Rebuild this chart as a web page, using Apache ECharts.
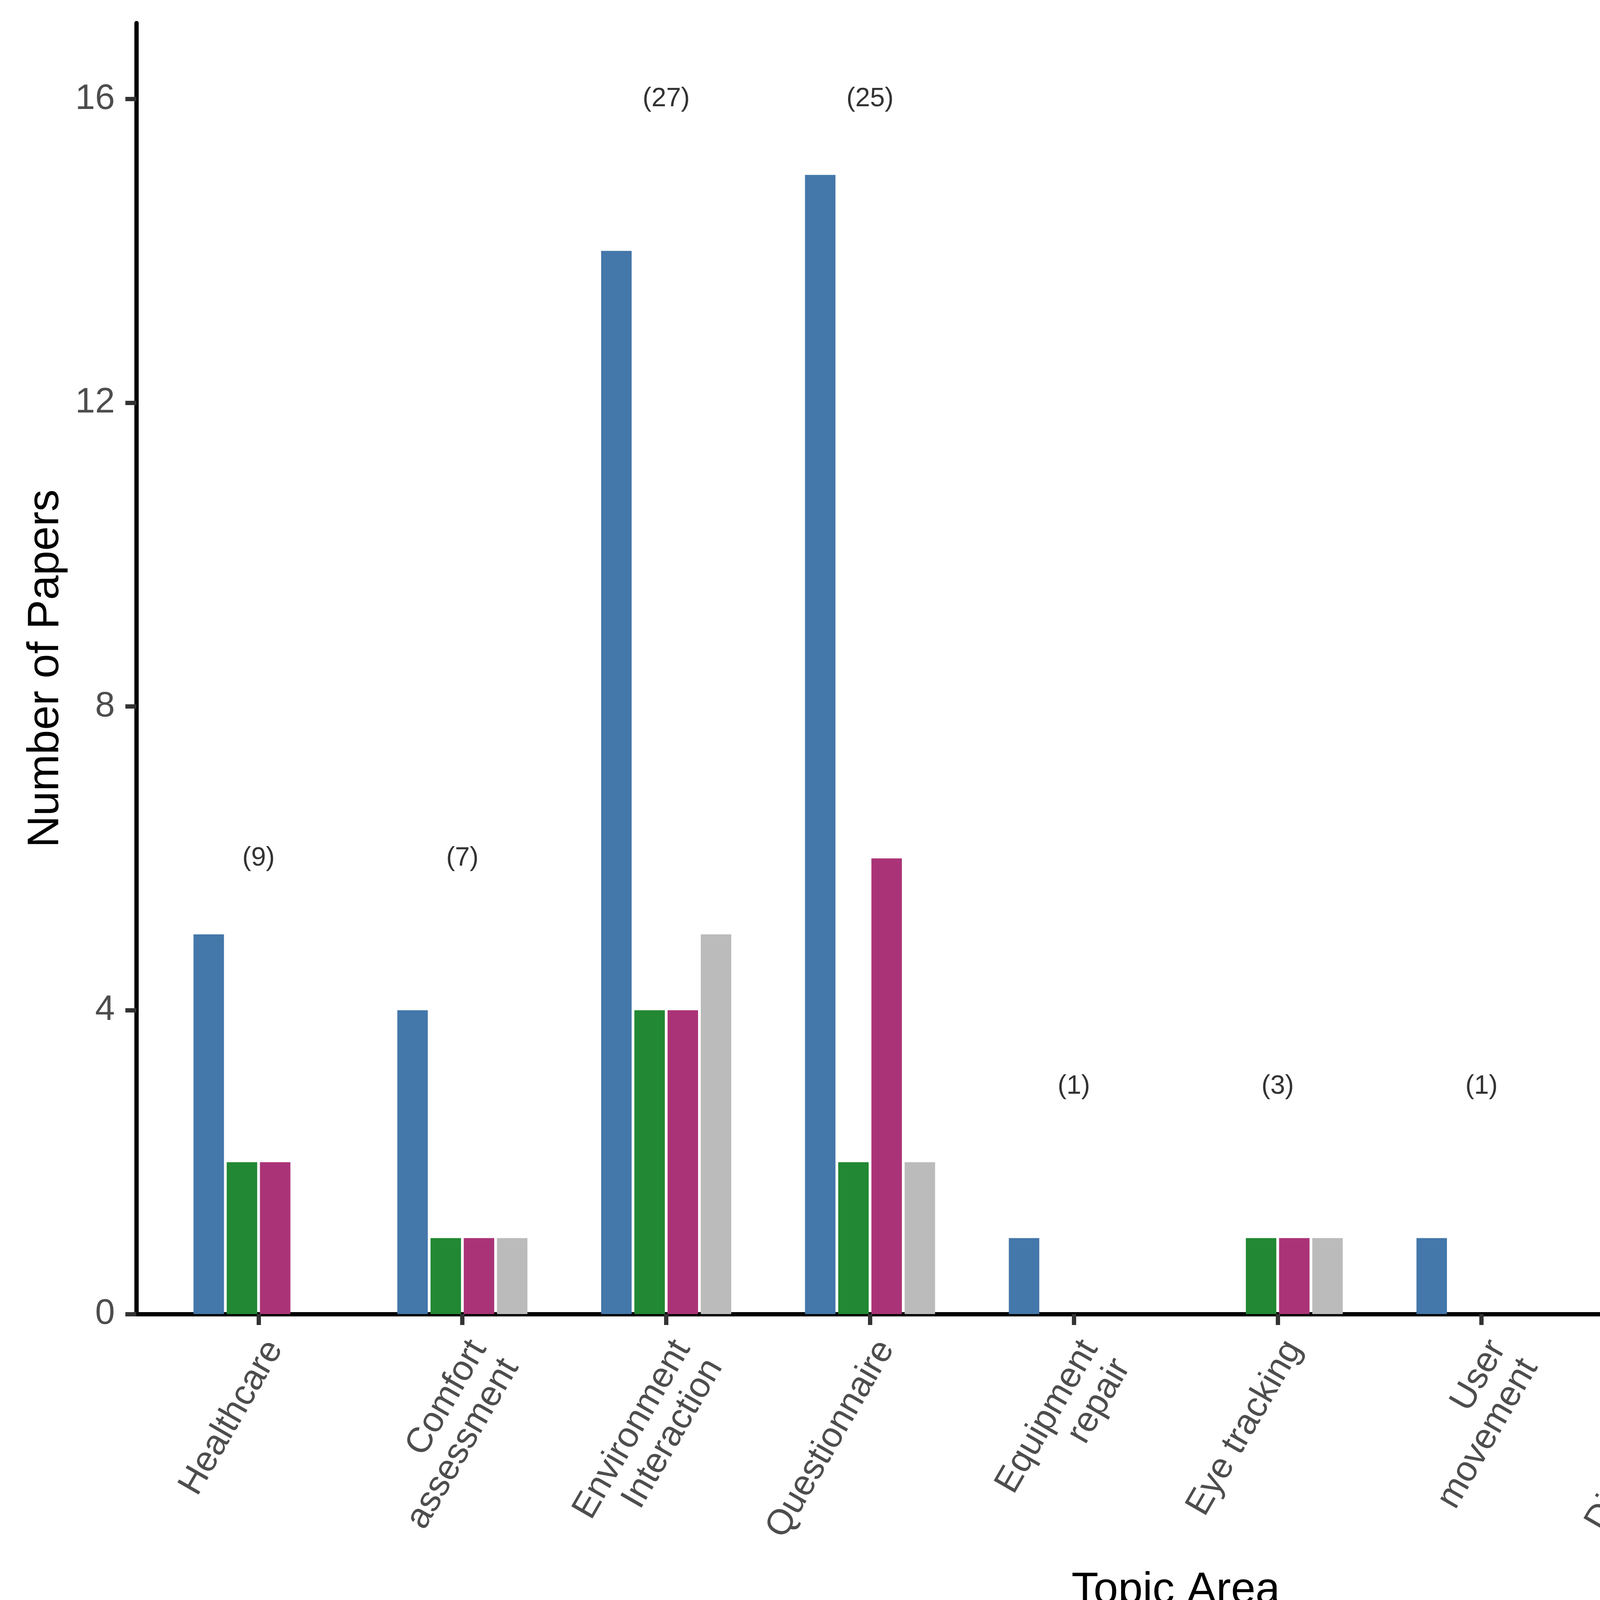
<!DOCTYPE html>
<html>
<head>
<meta charset="utf-8">
<script src="https://cdn.jsdelivr.net/npm/echarts@6/dist/echarts.min.js"></script>
<style>html,body{margin:0;padding:0;background:#fff}#c{width:6000px;height:4200px}</style>
</head>
<body>
<div id="c"></div>
<script>
const categories = ['Healthcare', 'Comfort\nassessment', 'Environment\nInteraction', 'Questionnaire', 'Equipment\nrepair', 'Eye tracking', 'User\nmovement', 'Display result', 'Signals\nmeasurement', 'FOV'];
const seriesNames = ['Virtual/Real', 'Color', 'Luminance', 'In/Out'];
const virtualReal = [5, 4, 14, 15, 1, 0, 1, 5, 1, 0];
const colorVals = [2, 1, 4, 2, 0, 1, 0, 3, 1, 1];
const luminance = [2, 1, 4, 6, 0, 1, 0, 1, 0, 0];
const inOut = [0, 1, 5, 2, 0, 1, 0, 0, 1, 0];
const totals = [9, 7, 27, 25, 1, 3, 1, 9, 3, 1];
const totalLabelY = [6, 6, 16, 16, 3, 3, 3, 6, 3, 3];
const yTicks = [0, 4, 8, 12, 16];
const palette = ['#4477AA', '#228833', '#AA3377', '#BBBBBB'];

const FONT = 'Liberation Sans';
const seriesData = [virtualReal, colorVals, luminance, inOut];

const chart = echarts.init(document.getElementById('c'), null, {renderer: 'canvas', devicePixelRatio: 1});

const barSeries = seriesNames.map((n, k) => ({
  name: n,
  type: 'bar',
  xAxisIndex: 0,
  yAxisIndex: 0,
  data: seriesData[k],
  barWidth: 78,
  barGap: '9%',
  itemStyle: {color: palette[k]},
  silent: true
}));

const option = {
  animation: false,
  backgroundColor: '#ffffff',
  title: {
    text: 'Environmental\nFactors',
    left: 4908,
    top: 620,
    padding: 0,
    textStyle: {fontSize: 113, lineHeight: 127, fontWeight: 'normal', color: '#000', fontFamily: FONT}
  },
  legend: {
    orient: 'vertical',
    left: 4908,
    top: 926,
    itemWidth: 132,
    itemHeight: 132,
    itemGap: 12,
    padding: 0,
    icon: 'rect',
    selectedMode: false,
    data: seriesNames,
    textStyle: {fontSize: 91, color: '#000', fontFamily: FONT, padding: [0, 0, 0, 60]}
  },
  grid: [
    {left: 401, right: 381, top: 59, bottom: 836},
    {left: 349, right: 329, top: 59, bottom: 836}
  ],
  xAxis: [
    {
      type: 'category', gridIndex: 0, data: categories,
      axisLine: {show: false},
      axisTick: {show: true, alignWithLabel: true, length: 28, lineStyle: {color: '#333333', width: 11}},
      axisLabel: {rotate: 60, interval: 0, margin: 51, fontSize: 91, color: '#4D4D4D', fontFamily: FONT,
                  align: 'right', verticalAlign: 'top', lineHeight: 95},
      splitLine: {show: false}
    },
    {
      type: 'value', gridIndex: 1, min: 0, max: 1,
      axisLine: {show: true, onZero: false, lineStyle: {color: '#000', width: 11}},
      axisTick: {show: false}, axisLabel: {show: false}, splitLine: {show: false},
      name: 'Topic Area', nameLocation: 'middle', nameGap: 652,
      nameTextStyle: {fontSize: 113, color: '#000', fontFamily: FONT}
    }
  ],
  yAxis: [
    {type: 'value', gridIndex: 0, min: 0, max: 17, show: false},
    {
      type: 'value', gridIndex: 1, min: 0, max: 17, interval: 4,
      axisLine: {show: true, onZero: false, lineStyle: {color: '#000', width: 11}},
      axisTick: {show: true, length: 28, customValues: yTicks, lineStyle: {color: '#333333', width: 11}},
      axisLabel: {customValues: yTicks, margin: 55, fontSize: 91, color: '#4D4D4D', fontFamily: FONT},
      splitLine: {show: false},
      name: 'Number of Papers', nameLocation: 'middle', nameGap: 175,
      nameTextStyle: {fontSize: 113, color: '#000', fontFamily: FONT}
    }
  ],
  series: barSeries.concat([{
    name: 'totals',
    type: 'scatter',
    xAxisIndex: 0,
    yAxisIndex: 0,
    symbolSize: 1,
    itemStyle: {color: 'rgba(0,0,0,0)'},
    silent: true,
    z: 5,
    data: totalLabelY.map((y, i) => [i, y]),
    label: {
      show: true, position: 'inside',
      formatter: p => '(' + totals[p.dataIndex] + ')',
      fontSize: 68, color: '#000', fontFamily: FONT
    }
  }])
};
chart.setOption(option);
</script>
</body>
</html>
